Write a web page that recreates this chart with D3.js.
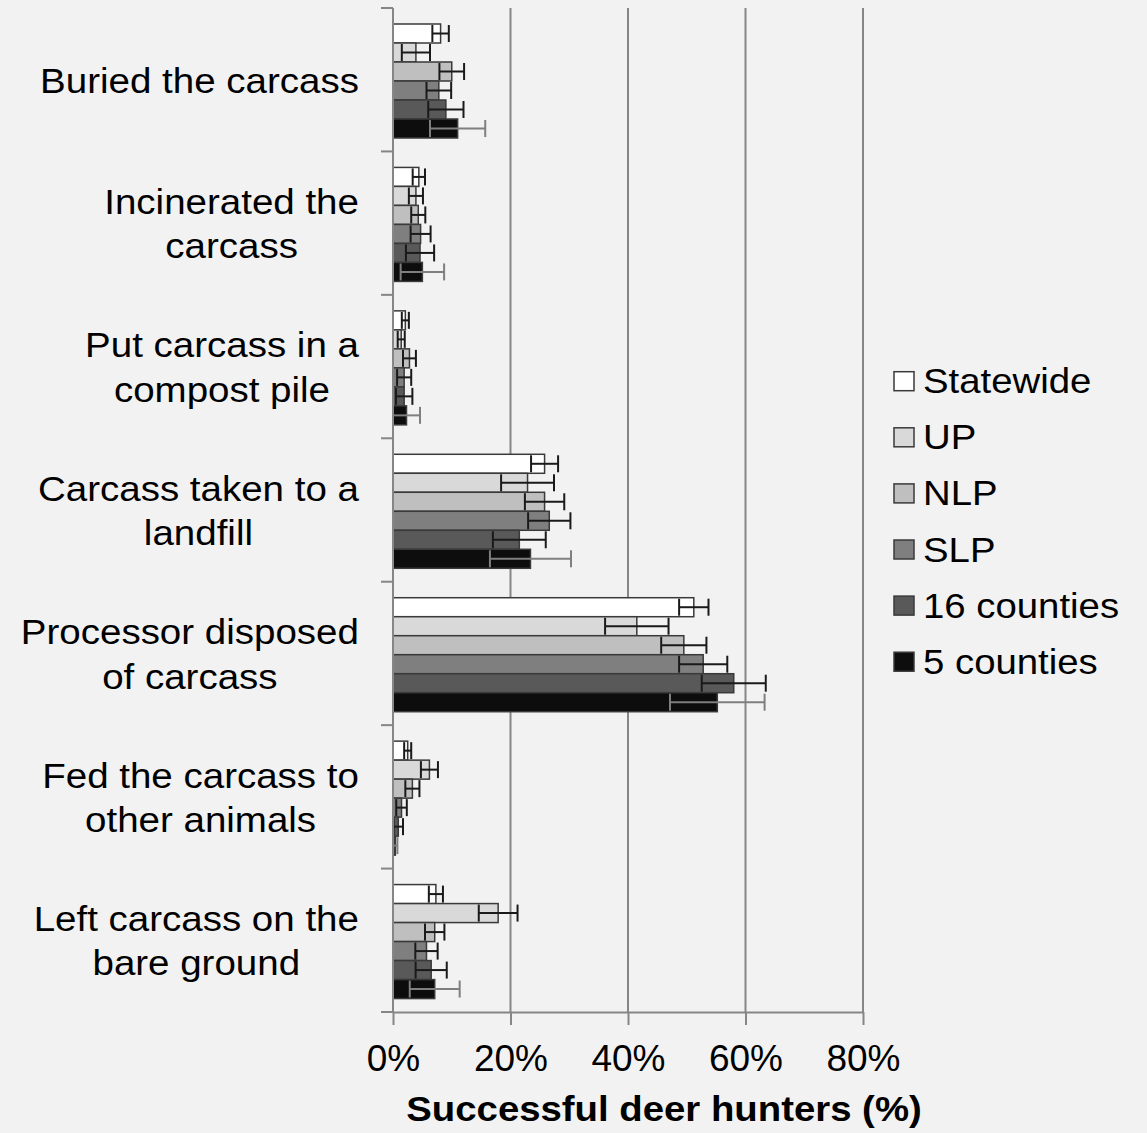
<!DOCTYPE html>
<html>
<head>
<meta charset="utf-8">
<script src="https://cdn.jsdelivr.net/npm/d3@7"></script>
<style>
  html, body { margin: 0; padding: 0; background: #f2f2f2; }
  svg { display: block; font-family: "Liberation Sans", Arial, sans-serif; }
</style>
</head>
<body>
<svg id="chart" width="1147" height="1133"></svg>
<script>
// ---- data ----
const categories = [
  "Buried the carcass",
  "Incinerated the carcass",
  "Put carcass in a compost pile",
  "Carcass taken to a landfill",
  "Processor disposed of carcass",
  "Fed the carcass to other animals",
  "Left carcass on the bare ground"
];
const categoryLines = [
  ["Buried the carcass"],
  ["Incinerated the", "carcass"],
  ["Put carcass in a", "compost pile"],
  ["Carcass taken to a", "landfill"],
  ["Processor disposed", "of carcass"],
  ["Fed the carcass to", "other animals"],
  ["Left carcass on the", "bare ground"]
];
const seriesNames = ["Statewide", "UP", "NLP", "SLP", "16 counties", "5 counties"];

const statewide      = [8.1, 4.4, 2.1, 25.8, 51.2, 2.5, 7.3];
const statewideErr   = [1.4, 1.05, 0.6, 2.3, 2.5, 0.6, 1.2];
const up             = [3.9, 3.9, 1.4, 22.9, 41.5, 6.2, 17.9];
const upErr          = [2.4, 1.2, 0.6, 4.5, 5.4, 1.45, 3.3];
const nlp            = [10.0, 4.3, 2.8, 25.8, 49.5, 3.3, 7.1];
const nlpErr         = [2.1, 1.2, 1.1, 3.35, 3.85, 1.2, 1.65];
const slp            = [7.8, 4.7, 1.9, 26.6, 52.8, 1.45, 5.7];
const slpErr         = [2.1, 1.7, 1.2, 3.6, 4.1, 0.9, 1.9];
const counties16     = [9.0, 4.6, 1.9, 21.5, 58.0, 0.9, 6.5];
const counties16Err  = [3.0, 2.4, 1.4, 4.5, 5.45, 0.8, 2.65];
const counties5      = [11.0, 5.0, 2.3, 23.4, 55.2, 0.4, 7.1];
const counties5Err   = [4.7, 3.7, 2.3, 6.9, 8.05, 0.35, 4.25];

const xTickValues = [0, 20, 40, 60, 80];
const xTitle = "Successful deer hunters (%)";

// ---- styles ----
const fills = ["#ffffff", "#d9d9d9", "#bfbfbf", "#7f7f7f", "#595959", "#0d0d0d"];
const errColors = ["#1a1a1a", "#1a1a1a", "#1a1a1a", "#1a1a1a", "#1a1a1a", "#7f7f7f"];
const axisColor = "#868686";

const valuesBySeries = [statewide, up, nlp, slp, counties16, counties5];
const errBySeries = [statewideErr, upErr, nlpErr, slpErr, counties16Err, counties5Err];

const data = [];
seriesNames.forEach((s, si) => {
  categories.forEach((c, ci) => {
    data.push({ series: s, si, category: c, value: valuesBySeries[si][ci], err: errBySeries[si][ci] });
  });
});

const svg = d3.select("#chart");
svg.append("rect").attr("width", 1147).attr("height", 1133).attr("fill", "#f2f2f2");

const x = d3.scaleLinear().domain([0, 80]).range([393, 863]);
const y = d3.scaleBand().domain(categories).range([8, 1012]).paddingInner(0).paddingOuter(0);
const ys = d3.scaleBand().domain(seriesNames).range([16, 16 + 114]);

// gridlines
svg.append("g").selectAll("line")
  .data(xTickValues.filter(d => d > 0))
  .join("line")
  .attr("x1", d => x(d)).attr("x2", d => x(d))
  .attr("y1", 8).attr("y2", 1012)
  .attr("stroke", axisColor).attr("stroke-width", 2);

// bars
svg.append("g").selectAll("rect")
  .data(data)
  .join("rect")
  .attr("x", x(0))
  .attr("y", d => y(d.category) + ys(d.series))
  .attr("width", d => x(d.value) - x(0))
  .attr("height", ys.bandwidth())
  .attr("fill", d => fills[d.si])
  .attr("stroke", "#3a3a3a")
  .attr("stroke-width", 1.5);

// error bars
const eg = svg.append("g");
data.forEach(d => {
  const cy = y(d.category) + ys(d.series) + ys.bandwidth() / 2;
  const x0 = x(Math.max(0, d.value - d.err));
  const x1 = x(d.value + d.err);
  const col = errColors[d.si];
  const g = eg.append("g").attr("stroke", col).attr("stroke-width", 2);
  g.append("line").attr("x1", x0).attr("x2", x1).attr("y1", cy).attr("y2", cy);
  g.append("line").attr("x1", x0).attr("x2", x0).attr("y1", cy - 8.5).attr("y2", cy + 8.5);
  g.append("line").attr("x1", x1).attr("x2", x1).attr("y1", cy - 8.5).attr("y2", cy + 8.5);
});

// y axis line + boundary ticks
svg.append("line")
  .attr("x1", x(0)).attr("x2", x(0)).attr("y1", 8).attr("y2", 1012)
  .attr("stroke", axisColor).attr("stroke-width", 2);
const boundaries = categories.map(c => y(c)).concat([y.range()[1]]);
svg.append("g").selectAll("line")
  .data(boundaries)
  .join("line")
  .attr("x1", x(0) - 12).attr("x2", x(0))
  .attr("y1", d => d).attr("y2", d => d)
  .attr("stroke", axisColor).attr("stroke-width", 2);

// x axis
const xAxis = d3.axisBottom(x)
  .tickValues(xTickValues)
  .tickFormat(d => d + "%")
  .tickSize(13)
  .tickSizeOuter(0)
  .tickPadding(16);
const xg = svg.append("g").attr("transform", "translate(0,1012)").call(xAxis);
xg.select(".domain").attr("stroke", axisColor).attr("stroke-width", 2);
xg.selectAll(".tick line").attr("stroke", axisColor).attr("stroke-width", 2);
xg.selectAll(".tick text")
  .attr("fill", "#000")
  .attr("font-size", 37)
  .attr("font-family", "'Liberation Sans', Arial, sans-serif")
  .attr("dy", null)
  .attr("y", 59);

// x title
svg.append("text")
  .attr("transform", "translate(664,1121) scale(1.08,1)")
  .attr("text-anchor", "middle")
  .attr("font-size", 35.5)
  .attr("font-weight", "bold")
  .attr("fill", "#000")
  .text(xTitle);

// category labels (lines centered, block right edge at x=359)
const lineGap = 44.3;
const labelScale = 1.085;
const labelRight = 359;
categories.forEach((c, ci) => {
  const lines = categoryLines[ci];
  const cy = y(c) + y.bandwidth() / 2;
  const texts = lines.map((ln, li) => {
    const by = cy + 13 + (li - (lines.length - 1) / 2) * lineGap;
    return svg.append("text")
      .attr("text-anchor", "middle")
      .attr("font-size", 35.5)
      .attr("fill", "#000")
      .attr("data-by", by)
      .text(ln);
  });
  const maxW = d3.max(texts, t => t.node().getComputedTextLength()) * labelScale;
  const cx = labelRight - maxW / 2;
  texts.forEach(t => {
    t.attr("transform", `translate(${cx},${t.attr("data-by")}) scale(${labelScale},1)`);
  });
});

// legend
const lg = svg.append("g");
seriesNames.forEach((s, si) => {
  const top = 371.7 + si * 56.1;
  lg.append("rect")
    .attr("x", 894).attr("y", top).attr("width", 20).attr("height", 19)
    .attr("fill", fills[si]).attr("stroke", "#3a3a3a").attr("stroke-width", 1.5);
  lg.append("text")
    .attr("transform", `translate(923,${top + 21.5}) scale(1.08,1)`)
    .attr("font-size", 35.5)
    .attr("fill", "#000")
    .text(s);
});
</script>
</body>
</html>
